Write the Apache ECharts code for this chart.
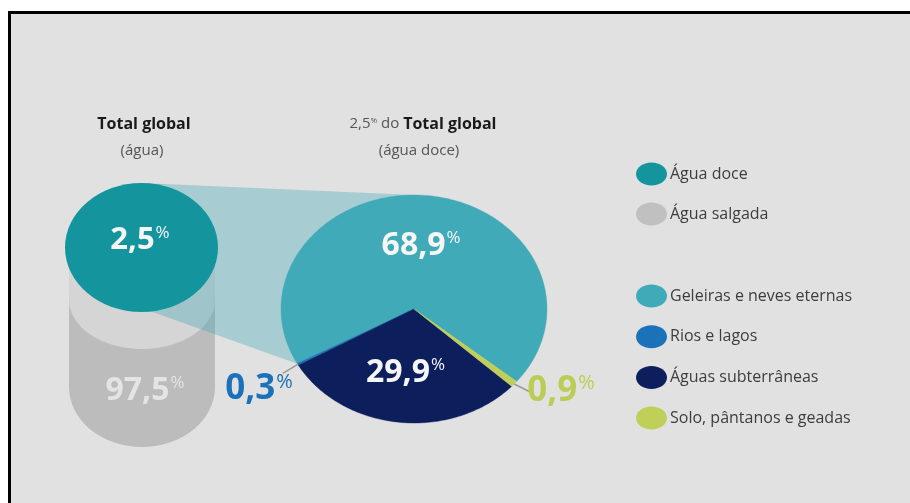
<!DOCTYPE html>
<html><head><meta charset="utf-8">
<script src="https://cdn.jsdelivr.net/npm/echarts@6/dist/echarts.min.js"></script>
<style>html,body{margin:0;padding:0;background:#fff}#c{width:910px;height:503px}</style>
</head><body><div id="c"></div>
<script>
// ---- data ----
const totalCats = ['Água doce', 'Água salgada'];
const totalVals = [2.5, 97.5];
const freshCats = ['Geleiras e neves eternas', 'Rios e lagos', 'Águas subterrâneas', 'Solo, pântanos e geadas'];
const freshVals = [68.9, 0.3, 29.9, 0.9];
const titleLeft = ['Total global', '(água)'];
const titleRight = ['do', 'Total global', '(água doce)'];

// ---- styles ----
const totalColors = ['#14959e', '#bcbcbc'];
const legendTotalColors = ['#14959e', '#c0c0c0'];
const freshColors = ['#41aab8', '#1b72b8', '#0c1e5b', '#bfcf58'];
const smallLabelColors = {1: '#1b72b8', 3: '#bccd55'};
const FONT = '"Open Sans", sans-serif';
const fmt = v => String(v).replace('.', ',');

const PIE = {cx: 414, cy: 309, rx: 133, ry: 114, start: 39.5};
const sumFresh = freshVals.reduce((a, b) => a + b, 0);
const cum = []; let acc = 0; freshVals.forEach(v => { cum.push(acc); acc += v; });
const ang = frac => (PIE.start - frac * 360) * Math.PI / 180;
const pt = (t, k) => { k = k == null ? 1 : k; return [PIE.cx + PIE.rx * k * Math.cos(t), PIE.cy + PIE.ry * k * Math.sin(t)]; };
const smallLabel = {1: {lead: [-15, 9], tx: 10, ty: 16, align: 'right'}, 3: {lead: [16, 8], tx: -3, ty: -1, align: 'left'}};

function numRich(color, big, pct) {
  return {
    n: {fontSize: big, fontWeight: 'bold', fontFamily: FONT, fill: color, lineHeight: big + 4},
    p: {fontSize: pct, fontFamily: FONT, fill: color, verticalAlign: 'top', lineHeight: big + 4, padding: [2, 0, 0, 1]}
  };
}

function renderPie(params, api) {
  const i = params.dataIndex;
  const v = api.value(0);
  const a0 = ang(cum[i] / sumFresh), a1 = ang((cum[i] + v) / sumFresh);
  const n = Math.max(2, Math.ceil(Math.abs(a1 - a0) / (Math.PI / 180)));
  const pts = [[PIE.cx, PIE.cy]];
  for (let s = 0; s <= n; s++) pts.push(pt(a0 + (a1 - a0) * s / n));
  const children = [{type: 'polygon', shape: {points: pts}, style: {fill: freshColors[i], stroke: freshColors[i], lineWidth: 0.4}}];
  const am = (a0 + a1) / 2;
  if (smallLabel[i]) {
    const p = pt(am), sl = smallLabel[i];
    const e = [p[0] + sl.lead[0], p[1] + sl.lead[1]];
    children.push({type: 'line', z2: 5, shape: {x1: p[0], y1: p[1], x2: e[0], y2: e[1]}, style: {stroke: '#9a9a9a', lineWidth: 1.5}});
    children.push({type: 'text', z2: 6, x: e[0] + sl.tx, y: e[1] + sl.ty, style: {
      text: '{n|' + fmt(v) + '}{p|%}', align: sl.align, verticalAlign: 'middle',
      rich: numRich(smallLabelColors[i], 35, 20)}});
  } else {
    const p = pt(am, 0.56);
    children.push({type: 'text', z2: 6, x: p[0], y: p[1], style: {
      text: '{n|' + fmt(v) + '}{p|%}', align: 'center', verticalAlign: 'middle',
      rich: numRich('#f6f6f6', 32, 17)}});
  }
  return {type: 'group', children};
}

const graphics = [
  {type: 'rect', z: 0, shape: {x: 8, y: 11, width: 902, height: 492}, style: {fill: '#e1e1e1'}},
  {type: 'rect', z: 0, shape: {x: 8, y: 11, width: 902, height: 3}, style: {fill: '#000'}},
  {type: 'rect', z: 0, shape: {x: 8, y: 11, width: 3, height: 492}, style: {fill: '#000'}},
  // cylinder body (Água salgada)
  {type: 'rect', z: 1, shape: {x: 69, y: 247, width: 146, height: 140}, style: {fill: totalColors[1]}},
  {type: 'ellipse', z: 1, shape: {cx: 142, cy: 387, rx: 73, ry: 60}, style: {fill: totalColors[1]}},
  {type: 'rect', z: 1, shape: {x: 69, y: 247, width: 146, height: 53}, style: {fill: '#d5d5d5'}},
  {type: 'ellipse', z: 1, shape: {cx: 142, cy: 300, rx: 73, ry: 49}, style: {fill: '#d5d5d5'}},
  // connector
  {type: 'polygon', z: 1, shape: {points: [[141, 183], [414, 195], [414, 300], [298, 364], [147, 310]]}, style: {fill: 'rgba(64,170,184,0.36)'}},
  // cylinder top (Água doce)
  {type: 'ellipse', z: 1, shape: {cx: 141.5, cy: 247.5, rx: 76.5, ry: 64.5}, style: {fill: totalColors[0]}},
  {type: 'text', z: 10, x: 140, y: 240, style: {text: '{n|' + fmt(totalVals[0]) + '}{p|%}', align: 'center', verticalAlign: 'middle', rich: numRich('#f6f6f6', 31, 17)}},
  {type: 'text', z: 10, x: 145, y: 391, style: {text: '{n|' + fmt(totalVals[1]) + '}{p|%}', align: 'center', verticalAlign: 'middle', rich: numRich('#e4e4e4', 32, 17)}},
  // titles
  {type: 'text', z: 10, x: 144, y: 124, style: {text: titleLeft[0], align: 'center', verticalAlign: 'middle', font: 'bold 16px ' + FONT, fill: '#1a1a1a'}},
  {type: 'text', z: 10, x: 142, y: 151, style: {text: titleLeft[1], align: 'center', verticalAlign: 'middle', font: '15px ' + FONT, fill: '#555'}},
  {type: 'text', z: 10, x: 423, y: 124, style: {
    text: '{a|' + fmt(totalVals[0]) + '}{s|%}{a| ' + titleRight[0] + ' }{b|' + titleRight[1] + '}', align: 'center', verticalAlign: 'middle',
    rich: {a: {fontSize: 15, fontFamily: FONT, fill: '#555', lineHeight: 20}, s: {fontSize: 8, fontFamily: FONT, fill: '#555', verticalAlign: 'top', lineHeight: 20, padding: [3, 0, 0, 0]}, b: {fontSize: 16, fontWeight: 'bold', fontFamily: FONT, fill: '#1a1a1a', lineHeight: 20}}}},
  {type: 'text', z: 10, x: 419, y: 151, style: {text: titleRight[2], align: 'center', verticalAlign: 'middle', font: '15px ' + FONT, fill: '#555'}}
];

// legend
const legendItems = [];
totalCats.forEach((c, i) => legendItems.push({name: c, color: legendTotalColors[i], y: 174 + i * 40}));
freshCats.forEach((c, i) => legendItems.push({name: c, color: freshColors[i], y: 296 + i * 40.7}));
legendItems.forEach(it => {
  graphics.push({type: 'ellipse', z: 10, shape: {cx: 651.5, cy: it.y, rx: 15.5, ry: 11.5}, style: {fill: it.color}});
  graphics.push({type: 'text', z: 10, x: 670, y: it.y, style: {text: it.name, align: 'left', verticalAlign: 'middle', font: '16px ' + FONT, fill: '#3d3d3d'}});
});

const chart = echarts.init(document.getElementById('c'));
chart.setOption({
  backgroundColor: '#fff',
  animation: false,
  graphic: {elements: graphics},
  series: [{
    type: 'custom', coordinateSystem: 'none', z: 5,
    renderItem: renderPie,
    data: freshVals.map((v, i) => ({name: freshCats[i], value: v}))
  }]
});
</script></body></html>
